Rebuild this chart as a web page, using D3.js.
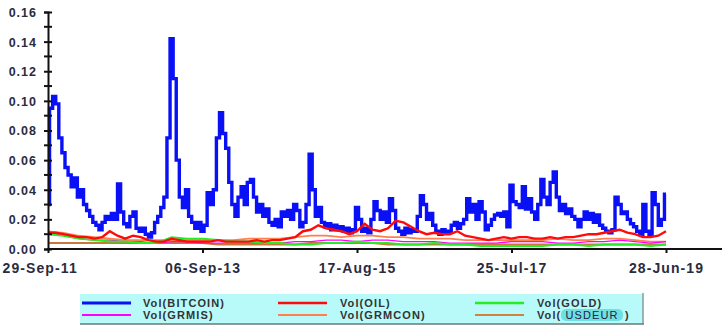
<!DOCTYPE html>
<html><head><meta charset="utf-8">
<script src="https://cdn.jsdelivr.net/npm/d3@7"></script>
<style>
html,body{margin:0;padding:0;background:#fff;}
svg{display:block;font-family:"Liberation Sans",Arial,sans-serif;}
</style></head>
<body><svg id="c" width="724" height="336"></svg>
<script>
// ---- data (values sampled at regular observation steps) ----
const obsTotal = 2000;
const tickObs = [0, 500, 1000, 1500, 2000];
const tickLabels = ["29-Sep-11", "06-Sep-13", "17-Aug-15", "25-Jul-17", "28-Jun-19"];
const yTicks = [0, 0.02, 0.04, 0.06, 0.08, 0.10, 0.12, 0.14, 0.16];

// Bitcoin, every 10 observations
const bitcoin = [0.030,0.095,0.103,0.098,0.075,0.065,0.055,0.050,0.042,0.048,
0.035,0.040,0.030,0.026,0.022,0.018,0.016,0.013,0.018,0.022,
0.020,0.024,0.020,0.044,0.025,0.017,0.015,0.022,0.025,0.014,
0.012,0.014,0.010,0.008,0.011,0.018,0.022,0.028,0.035,0.075,
0.142,0.115,0.060,0.035,0.028,0.040,0.022,0.018,0.014,0.018,
0.012,0.016,0.038,0.030,0.040,0.075,0.092,0.078,0.068,0.045,
0.030,0.022,0.035,0.042,0.030,0.045,0.047,0.035,0.025,0.030,
0.022,0.027,0.018,0.016,0.020,0.015,0.025,0.022,0.026,0.020,
0.030,0.026,0.015,0.018,0.030,0.064,0.040,0.022,0.028,0.018,
0.015,0.017,0.013,0.016,0.013,0.015,0.012,0.014,0.011,0.013,
0.028,0.020,0.012,0.014,0.011,0.020,0.032,0.026,0.020,0.025,
0.018,0.034,0.026,0.014,0.012,0.010,0.014,0.011,0.013,0.012,
0.022,0.036,0.030,0.020,0.024,0.016,0.012,0.010,0.013,0.011,
0.012,0.016,0.018,0.014,0.017,0.020,0.034,0.025,0.030,0.020,
0.032,0.025,0.013,0.016,0.020,0.023,0.024,0.022,0.025,0.015,
0.043,0.032,0.030,0.028,0.042,0.027,0.034,0.025,0.020,0.030,
0.047,0.035,0.030,0.045,0.052,0.035,0.026,0.030,0.024,0.027,
0.022,0.020,0.015,0.020,0.025,0.020,0.024,0.018,0.023,0.016,
0.014,0.012,0.011,0.013,0.035,0.030,0.024,0.025,0.020,0.017,
0.015,0.012,0.010,0.030,0.012,0.010,0.038,0.030,0.016,0.020,
0.037];

// Oil, every 25 observations
const oil = [0.011,0.011,0.010,0.009,0.008,0.008,0.007,0.008,0.012,0.009,
0.007,0.009,0.008,0.006,0.005,0.005,0.007,0.006,0.005,0.005,
0.005,0.005,0.006,0.005,0.005,0.005,0.005,0.006,0.005,0.006,
0.006,0.007,0.008,0.012,0.013,0.016,0.014,0.013,0.012,0.010,
0.012,0.017,0.013,0.012,0.014,0.019,0.018,0.015,0.012,0.010,
0.011,0.010,0.010,0.012,0.009,0.008,0.007,0.006,0.007,0.008,
0.007,0.008,0.008,0.007,0.007,0.008,0.007,0.008,0.008,0.009,
0.010,0.010,0.011,0.012,0.013,0.011,0.010,0.008,0.008,0.009,
0.012];

// Gold, GRMIS, GRMCON, USDEUR: every 50 observations
const gold = [0.010,0.009,0.007,0.006,0.005,0.005,0.004,0.004,0.008,0.007,
0.007,0.006,0.005,0.005,0.004,0.004,0.003,0.003,0.004,0.004,
0.005,0.004,0.004,0.003,0.003,0.004,0.003,0.003,0.002,0.002,
0.002,0.002,0.002,0.003,0.003,0.002,0.003,0.003,0.003,0.002,
0.003];
const grmis = [0.011,0.009,0.007,0.006,0.006,0.005,0.005,0.004,0.005,0.005,
0.004,0.004,0.004,0.004,0.004,0.004,0.005,0.005,0.006,0.006,
0.005,0.006,0.006,0.005,0.005,0.005,0.004,0.004,0.004,0.004,
0.005,0.005,0.005,0.004,0.004,0.005,0.005,0.006,0.005,0.004,
0.005];
const grmcon = [0.012,0.011,0.009,0.008,0.007,0.006,0.006,0.006,0.006,0.006,
0.006,0.006,0.006,0.007,0.007,0.007,0.008,0.009,0.009,0.008,
0.009,0.009,0.008,0.008,0.007,0.007,0.007,0.006,0.006,0.006,
0.006,0.006,0.006,0.007,0.006,0.006,0.007,0.007,0.006,0.005,
0.005];
const usdeur = [0.004,0.004,0.004,0.004,0.004,0.004,0.004,0.004,0.004,0.004,
0.004,0.003,0.003,0.003,0.003,0.003,0.003,0.004,0.004,0.004,
0.004,0.004,0.003,0.003,0.003,0.003,0.003,0.003,0.003,0.003,
0.003,0.003,0.003,0.003,0.003,0.003,0.003,0.003,0.003,0.003,
0.003];

const seriesNames = ["Vol(BITCOIN)", "Vol(OIL)", "Vol(GOLD)", "Vol(GRMIS)", "Vol(GRMCON)", "Vol(USDEUR)"];

// ---- drawing ----
const svg = d3.select("#c");
const x = d3.scaleLinear().domain([0, obsTotal]).range([48, 666]);
const y = d3.scaleLinear().domain([0, 0.16]).range([249, 12]);

function toPts(arr, step){ return arr.map((v,i)=>[i*step, v]); }
const stepLine = d3.line().x(d=>x(d[0])).y(d=>y(d[1])).curve(d3.curveStep);
const smoothLine = d3.line().x(d=>x(d[0])).y(d=>y(d[1]));

const series = [
  {data: toPts(bitcoin,10), color:"#0a10f5", w:3.4, gen: stepLine},
  {data: toPts(usdeur,50), color:"#c8783c", w:2, gen: smoothLine},
  {data: toPts(grmcon,50), color:"#ff7f50", w:1.6, gen: smoothLine},
  {data: toPts(grmis,50), color:"#ff00ff", w:1.4, gen: smoothLine},
  {data: toPts(gold,50), color:"#22ee22", w:2, gen: smoothLine},
  {data: toPts(oil,25), color:"#ff0a0a", w:2.4, gen: smoothLine}
];
series.forEach(s=>{
  svg.append("path").attr("d", s.gen(s.data)).attr("fill","none")
    .attr("stroke", s.color).attr("stroke-width", s.w).attr("stroke-linejoin","miter");
});

const txtCol = "#2b2b3f";
// y axis
const yAx = svg.append("g").attr("transform","translate(48,0)")
  .call(d3.axisLeft(y).tickValues(yTicks).tickFormat(d3.format(".2f")).tickSize(4).tickPadding(8));
yAx.select(".domain").attr("stroke","#111").attr("stroke-width",2);
yAx.selectAll(".tick line").attr("stroke","#111").attr("stroke-width",2).attr("x2",4).attr("x1",-4);
yAx.selectAll(".tick text").attr("font-size","12.5px").attr("font-weight","bold")
  .attr("fill",txtCol).attr("letter-spacing","1px").attr("x",-11).attr("dy","0.35em");
// minor ticks
const minor = d3.range(0.01, 0.16, 0.02);
svg.append("g").selectAll("line").data(minor).join("line")
  .attr("x1",44).attr("x2",52).attr("y1",d=>y(d)).attr("y2",d=>y(d))
  .attr("stroke","#111").attr("stroke-width",2);

// x axis
const xAx = svg.append("g").attr("transform","translate(0,249)")
  .call(d3.axisBottom(x).tickValues(tickObs).tickFormat((d,i)=>tickLabels[i]).tickSize(4).tickPadding(10));
xAx.select(".domain").remove();
svg.append("line").attr("x1",47).attr("x2",722).attr("y1",249).attr("y2",249)
  .attr("stroke","#111").attr("stroke-width",2);
xAx.selectAll(".tick line").attr("stroke","#111").attr("stroke-width",2);
xAx.selectAll(".tick text").attr("font-size","14px").attr("font-weight","bold")
  .attr("fill",txtCol).attr("letter-spacing","1.1px");
xAx.selectAll(".tick").filter(d=>d===0).select("text").attr("text-anchor","start").attr("x",-46);

// legend
const lg = svg.append("g");
lg.append("rect").attr("x",80).attr("y",294).attr("width",563).attr("height",30).attr("fill","#b8fafa");
lg.append("line").attr("x1",643).attr("x2",643).attr("y1",293).attr("y2",324).attr("stroke","#8a9a9a").attr("stroke-width",1.5);
lg.append("line").attr("x1",80).attr("x2",644).attr("y1",324).attr("y2",324).attr("stroke","#6a7a7a").attr("stroke-width",1.5);
const legItems = [
  {name:seriesNames[0], color:"#0a10f5", w:3.2, col:0, row:0},
  {name:seriesNames[1], color:"#ff0a0a", w:2.4, col:1, row:0},
  {name:seriesNames[2], color:"#22ee22", w:2.4, col:2, row:0},
  {name:seriesNames[3], color:"#ff00ff", w:2, col:0, row:1},
  {name:seriesNames[4], color:"#ff7f50", w:2, col:1, row:1},
  {name:seriesNames[5], color:"#d2823c", w:2, col:2, row:1}
];
const colX = [82, 278, 475];
const textX = [143, 340, 537];
const rowY = [303, 315];
legItems.forEach(it=>{
  lg.append("line").attr("x1",colX[it.col]).attr("x2",colX[it.col]+49)
    .attr("y1",rowY[it.row]).attr("y2",rowY[it.row]).attr("stroke",it.color).attr("stroke-width",it.w);
  if (it.name === "Vol(USDEUR)") {
    lg.append("rect").attr("x",561).attr("y",rowY[it.row]-6).attr("width",62).attr("height",12)
      .attr("rx",5).attr("fill","#6fe0e0");
  }
  const t = lg.append("text").attr("x",textX[it.col]).attr("y",rowY[it.row]+4)
    .attr("font-size","11px").attr("font-weight","bold").attr("fill","#333")
    .attr("letter-spacing","1.1px");
  if (it.name === "Vol(USDEUR)") {
    t.append("tspan").text("Vol(");
    t.append("tspan").attr("font-weight","normal").attr("fill","#224").text(" USDEUR");
    t.append("tspan").attr("x",625).text(")");
  } else t.text(it.name);
});
</script></body></html>
